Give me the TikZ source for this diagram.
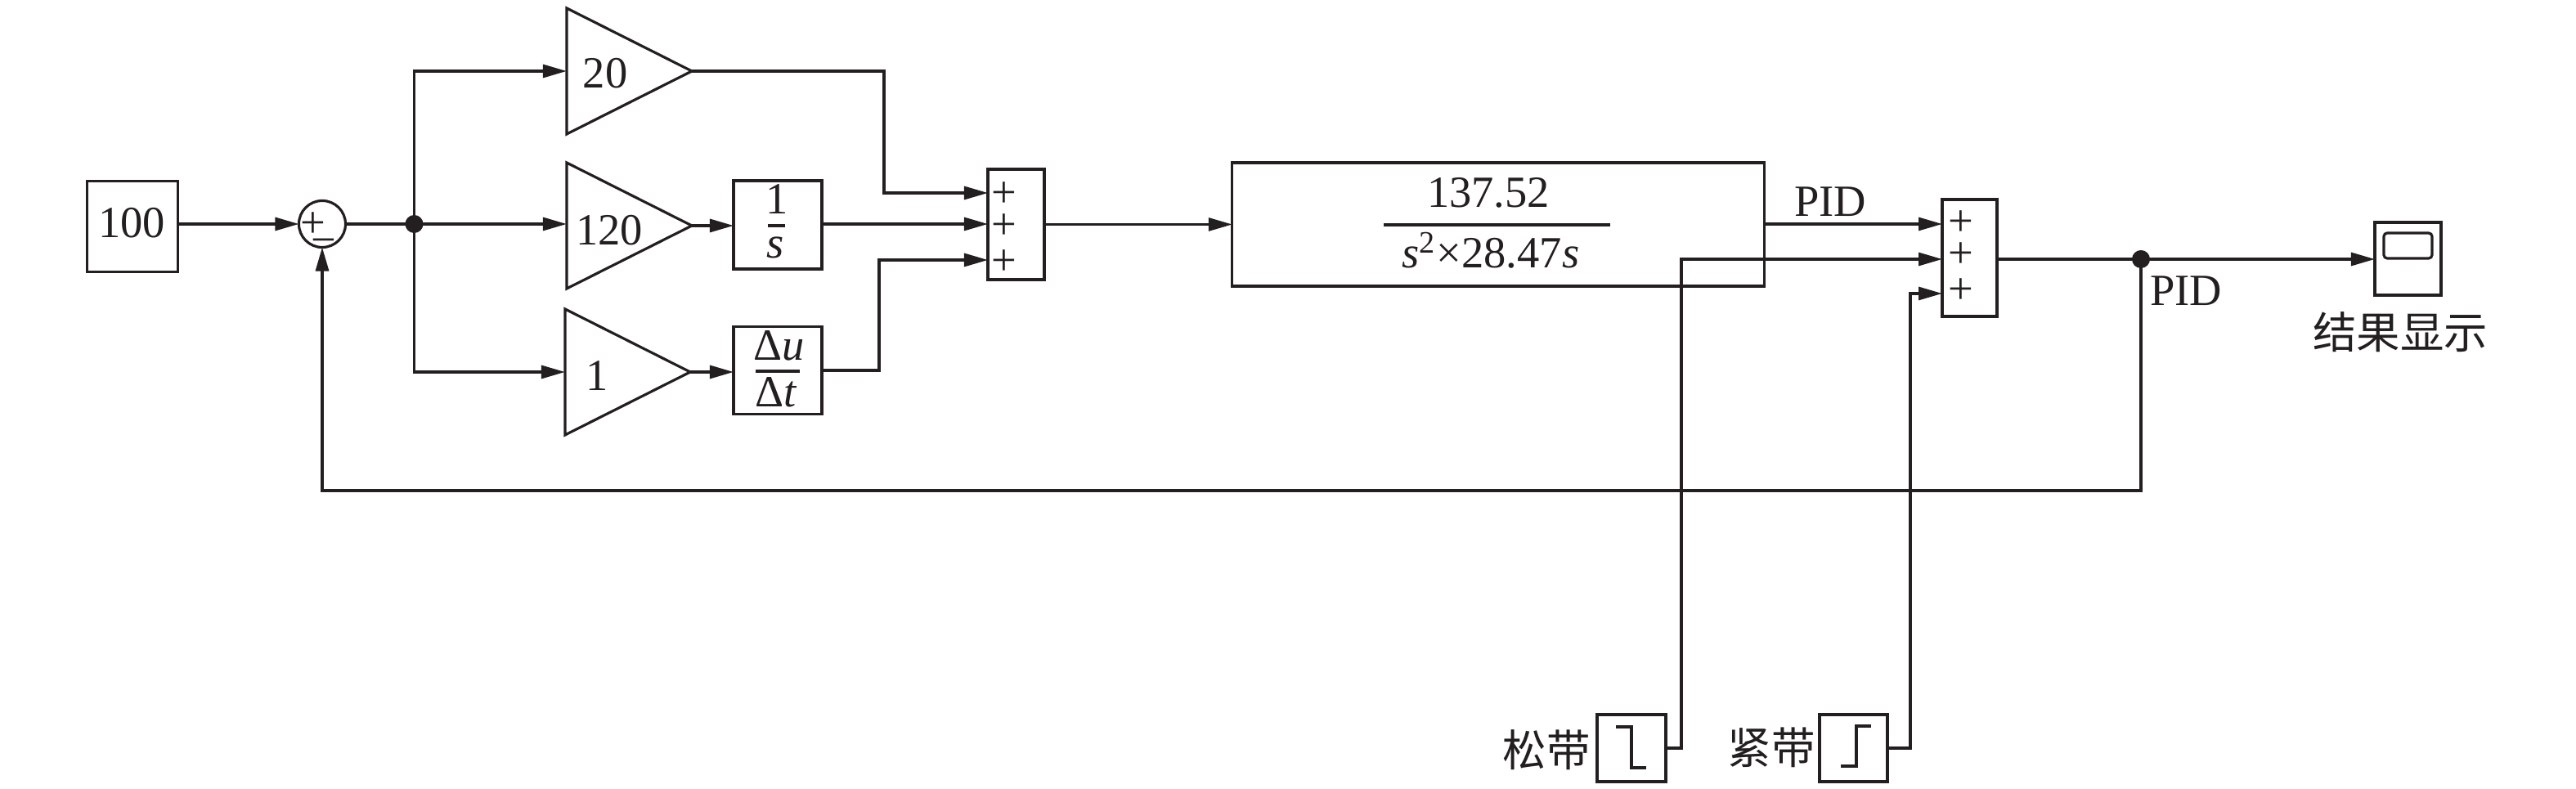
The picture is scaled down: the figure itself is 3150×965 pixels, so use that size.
\documentclass[tikz,border=0pt]{standalone}
\usepackage{fontspec}
\setmainfont{Liberation Serif}
\newfontfamily\cjk{Noto Sans CJK SC}
\usetikzlibrary{arrows.meta,shapes.geometric}
\definecolor{ink}{HTML}{231F20}
\tikzset{
    >={Triangle[length=0.29cm,width=0.16cm]},
    every node/.style={text=ink,font=\fontsize{15.5}{18}\selectfont},
    block/.style={draw,rectangle,inner sep=0,outer sep=0},
    gain/.style={draw,shape=isosceles triangle,isosceles triangle stretches,
        minimum width=1.54cm,minimum height=1.53cm,inner sep=0,outer sep=0,anchor=apex},
    txt/.style={inner sep=0,anchor=base},
    zh/.style={inner sep=0,font=\cjk\fontsize{15.2}{18}\selectfont},
    junction/.style={circle,fill=ink,inner sep=0,outer sep=0,minimum size=0.22cm},
    bar/.style={line width=1.1pt},
}
\begin{document}
\begin{tikzpicture}[x=0.01cm,y=-0.01cm,color=ink,line width=0.9pt]
    \useasboundingbox (0, 0) rectangle (3150, 965);
    %\draw[lightgray] (0, 0) grid (3150, 965);
    \node[block, minimum width=1.115cm, minimum height=1.11cm] (input) at (162, 277) {};
    \node[txt] (input text) at (161, 291) {100};
    \node[draw, circle, inner sep=0, outer sep=0, minimum size=0.57cm] (sum) at (394, 274) {};
    \node[txt] (sum plus) at (383, 291) {+};
    \node[txt] (sum minus) at (396, 312) {−};
    \node[junction] (dot in) at (506.5, 274) {};
    \node[gain] (gain top) at (846, 87) {};
    \node[gain] (gain mid) at (846, 276) {};
    \node[gain] (gain low) at (844, 455) {};
    \node[txt] (gain top text) at (740, 108) {20};
    \node[txt] (gain mid text) at (745, 300) {120};
    \node[txt] (gain low text) at (730, 478) {1};
    % integral and derivative
    \node[block, minimum width=1.08cm, minimum height=1.08cm] (integral) at (951, 275) {};
    \node[txt] (integral num) at (950, 262) {1};
    \draw[bar] (939, 276) -- (960, 276);
    \node[txt] (integral den) at (948, 316) {\textit{s}};
    \node[block, minimum width=1.08cm, minimum height=1.07cm] (derivative) at (951, 453) {};
    \node[txt] (derivative num) at (953, 441) {Δ\textit{u}};
    \draw[bar] (924, 454) -- (978, 454);
    \node[txt] (derivative den) at (949, 498) {Δ\textit{t}};
    % first adder
    \node[block, minimum width=0.69cm, minimum height=1.35cm] (adder) at (1242.5, 274.5) {};
    \coordinate (adder in top) at (1208, 236);
    \coordinate (adder in mid) at (1208, 274);
    \coordinate (adder in low) at (1208, 318);
    \node[txt] (adder plus top) at (1228, 254) {+};
    \node[txt] (adder plus mid) at (1228, 293) {+};
    \node[txt] (adder plus low) at (1228, 337) {+};
    % plant
    \node[block, minimum width=6.5cm, minimum height=1.51cm] (plant) at (1832, 274.5) {};
    \node[txt] (plant num) at (1820, 254) {137.52};
    \draw[bar] (1692, 275) -- (1969, 275);
    \node[txt] (plant den) at (1823, 328) {\textit{s}\textsuperscript{2}×28.47\textit{s}};
    \node[txt] (plant out text) at (2238, 265) {PID};
    % second adder
    \node[block, minimum width=0.67cm, minimum height=1.43cm] (mixer) at (2408.5, 315.5) {};
    \coordinate (mixer in top) at (2375, 274);
    \coordinate (mixer in mid) at (2375, 317);
    \coordinate (mixer in low) at (2375, 359);
    \node[txt] (mixer plus top) at (2398, 289) {+};
    \node[txt] (mixer plus mid) at (2398, 328) {+};
    \node[txt] (mixer plus low) at (2398, 372) {+};
    \node[junction] (dot out) at (2618, 317) {};
    \node[txt] (dot out text) at (2673, 374) {PID};
    % scope
    \node[block, minimum width=0.81cm, minimum height=0.89cm] (scope) at (2944.5, 316.5) {};
    \node[draw, rectangle, rounded corners=1.2pt, inner sep=0, minimum width=0.59cm, minimum height=0.31cm] (scope screen) at (2944.5, 300.5) {};
    \node[zh] (scope text) at (2935, 406) {结果显示};
    % belt signals
    \node[block, minimum width=0.84cm, minimum height=0.82cm] (slack) at (1995, 915) {};
    \node[zh] (slack text) at (1891, 917) {松带};
    \draw (1976, 889) -- (1995, 889) -- (1995, 939) -- (2013, 939);
    \node[block, minimum width=0.83cm, minimum height=0.82cm] (tight) at (2266.5, 915) {};
    \node[zh] (tight text) at (2166, 914) {紧带};
    \draw (2251, 937) -- (2270, 937) -- (2270, 888) -- (2288, 888);
    \coordinate (feedback) at (394, 600);
    % connectors
    \draw[->] (input.east |- sum.west) -- (sum.west);
    \draw (sum.east) -- (dot in.center);
    \draw[->] (dot in.center) |- (gain top.lower side);
    \draw[->] (dot in.center) -- (gain mid.lower side |- dot in.center);
    \draw[->] (dot in.center) |- (gain low.lower side);
    \draw[->] (gain mid.apex) -- (integral.west |- gain mid.apex);
    \draw[->] (gain low.apex) -- (derivative.west |- gain low.apex);
    \draw[->] (gain top.apex) -| (1081, 236) -- (adder in top);
    \draw[->] (integral.east |- adder in mid) -- (adder in mid);
    \draw[->] (derivative.east) -| (1075, 318) -- (adder in low);
    \draw[->] (adder.east |- plant.west) -- (plant.west);
    \draw[->] (plant.east |- mixer in top) -- (mixer in top);
    \draw[->] (slack.east) -| (2056, 317) -- (mixer in mid);
    \draw[->] (tight.east) -| (2336, 359) -- (mixer in low);
    \draw (mixer.east |- dot out) -- (dot out.center);
    \draw[->] (dot out.center) -- (scope.west |- dot out);
    \draw[->] (dot out.center) |- (feedback) -- (sum.south);
\end{tikzpicture}
\end{document}
